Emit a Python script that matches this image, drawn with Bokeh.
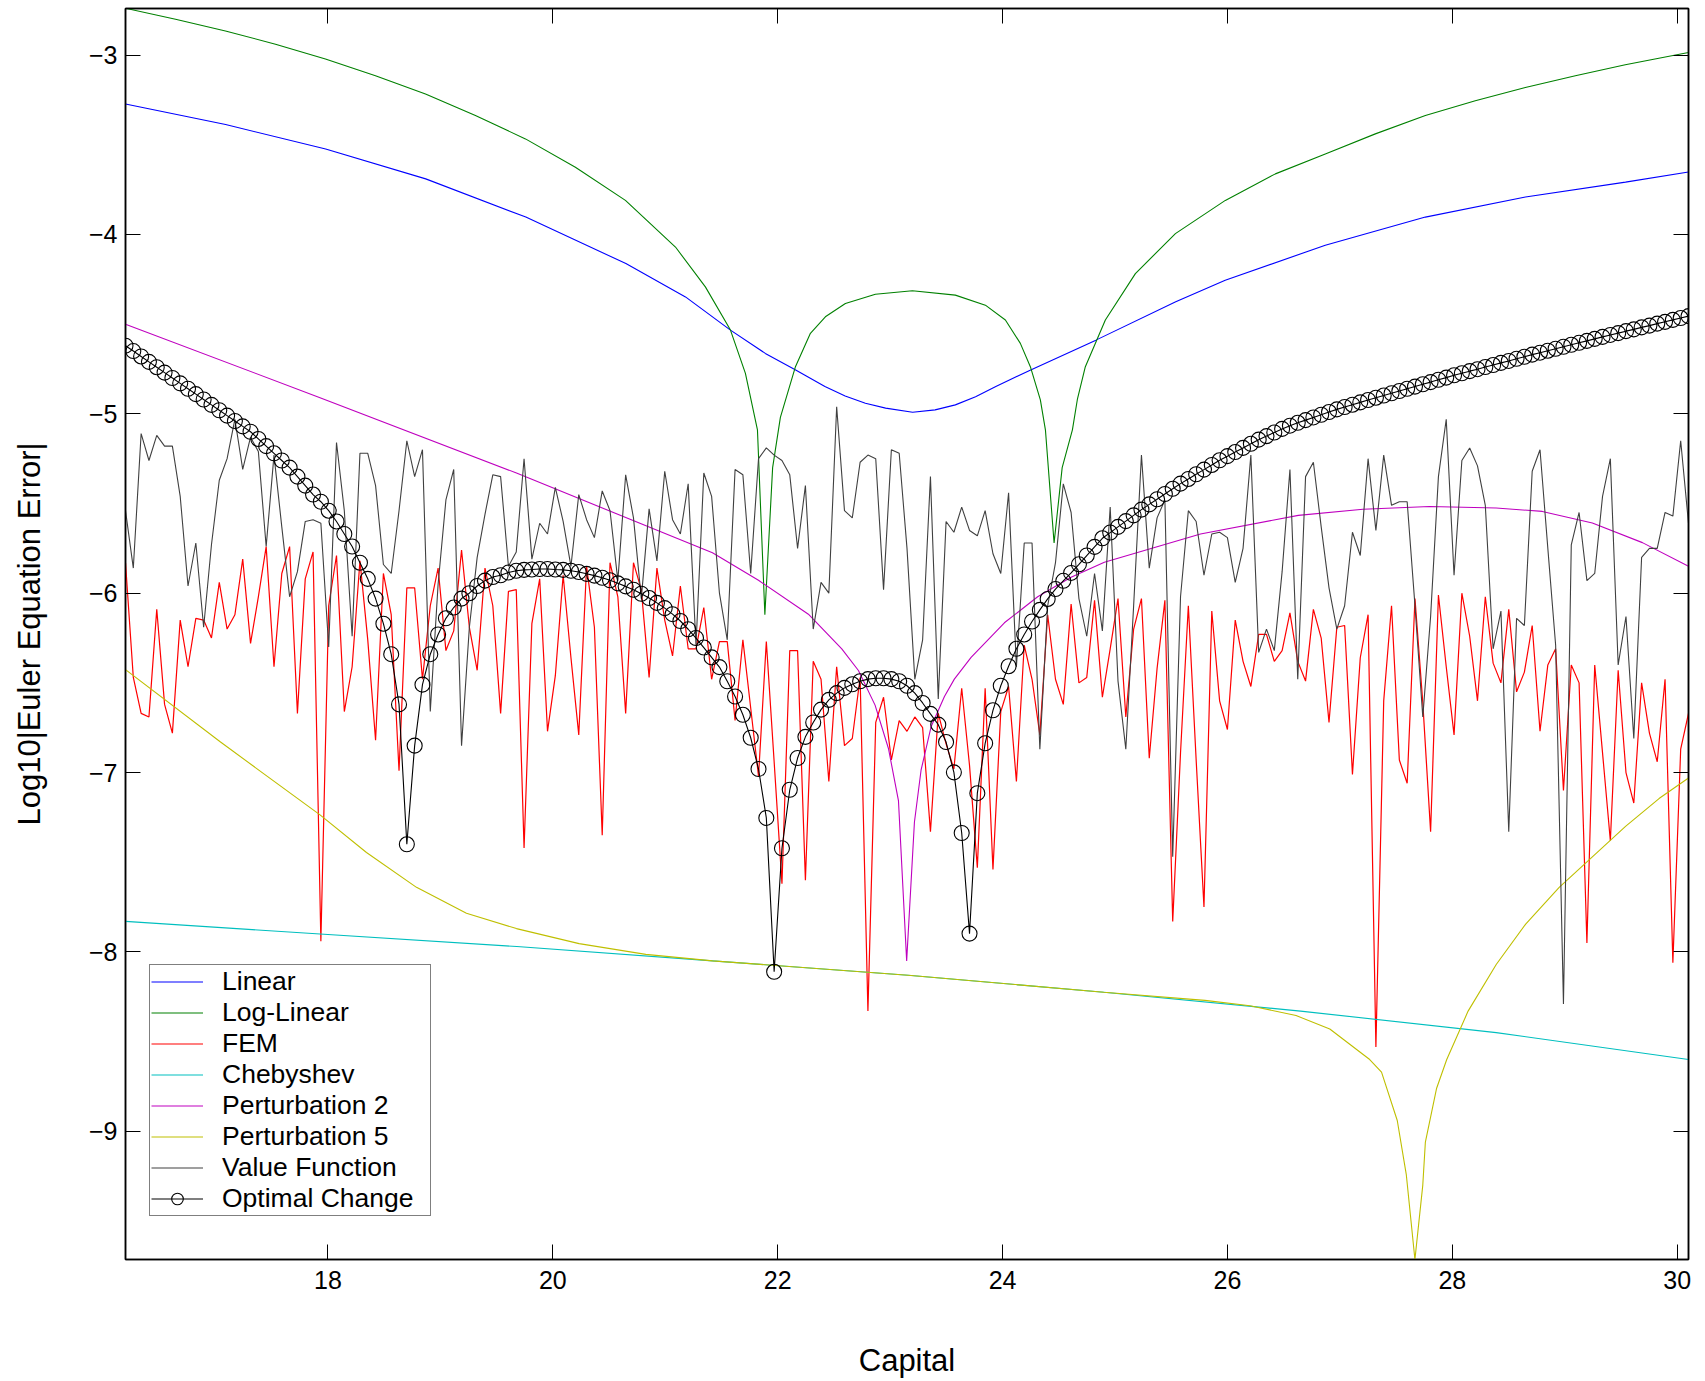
import numpy as np
from bokeh.plotting import figure
from bokeh.models import Range1d, FixedTicker, LinearAxis, Legend, LegendItem
from bokeh.embed import file_html
from bokeh.resources import INLINE

# ---------------- data ----------------
capital = np.linspace(16.2, 30.1, 201)

optimal_change = [
    -4.62, -4.65, -4.68, -4.71, -4.74, -4.77, -4.80, -4.83, -4.86, -4.89, -4.92, -4.95, -4.98, -5.01, -5.04, -5.07, -5.10, -5.14, -5.18, -5.22, -5.26, -5.30, -5.35, -5.40, -5.45,
    -5.49, -5.54, -5.60, -5.67, -5.74, -5.83, -5.92, -6.03, -6.17, -6.34, -6.62, -7.40, -6.85, -6.51, -6.34, -6.23, -6.14, -6.08, -6.03, -6.00, -5.96, -5.93, -5.91, -5.90, -5.885,
    -5.875, -5.87, -5.868, -5.865, -5.865, -5.868, -5.87, -5.875, -5.882, -5.892, -5.902, -5.914, -5.928, -5.945, -5.962, -5.981, -6.003, -6.027, -6.054, -6.083, -6.117, -6.155, -6.201, -6.25, -6.303,
    -6.358, -6.412, -6.491, -6.576, -6.678, -6.806, -6.98, -7.253, -8.111, -7.422, -7.096, -6.919, -6.801, -6.721, -6.649, -6.595, -6.557, -6.528, -6.508, -6.491, -6.479, -6.474, -6.474, -6.479, -6.491,
    -6.516, -6.557, -6.612, -6.673, -6.733, -6.83, -6.999, -7.337, -7.898, -7.115, -6.837, -6.653, -6.516, -6.407, -6.31, -6.23, -6.158, -6.093, -6.032, -5.977, -5.931, -5.887, -5.839, -5.79, -5.742,
    -5.694, -5.662, -5.630, -5.598, -5.566, -5.534, -5.505, -5.476, -5.447, -5.418, -5.389, -5.363, -5.337, -5.311, -5.285, -5.259, -5.236, -5.213, -5.190, -5.167, -5.144, -5.124, -5.104, -5.084, -5.066,
    -5.050, -5.035, -5.020, -5.005, -4.990, -4.975, -4.962, -4.949, -4.936, -4.923, -4.910, -4.898, -4.885, -4.873, -4.860, -4.848, -4.835, -4.823, -4.810, -4.798, -4.785, -4.774, -4.762, -4.751, -4.739,
    -4.728, -4.716, -4.705, -4.693, -4.682, -4.670, -4.659, -4.648, -4.637, -4.626, -4.615, -4.604, -4.593, -4.582, -4.571, -4.560, -4.550, -4.539, -4.529, -4.518, -4.508, -4.497, -4.487, -4.476, -4.466, -4.455,
]

value_function = [
    -5.54, -5.86, -5.11, -5.26, -5.12, -5.18, -5.18, -5.46, -5.96, -5.72, -6.19, -5.73, -5.37, -5.25, -5.03, -5.31, -5.13, -5.21, -5.74, -5.23, -5.63, -6.02, -5.88, -5.60, -5.59,
    -5.61, -6.30, -5.16, -5.54, -6.24, -5.22, -5.22, -5.40, -5.84, -5.89, -5.54, -5.15, -5.35, -5.20, -6.66, -5.95, -5.48, -5.31, -6.85, -6.19, -5.80, -5.56, -5.34, -5.35, -5.85,
    -5.77, -5.25, -5.81, -5.61, -5.67, -5.41, -5.60, -5.85, -5.45, -5.59, -5.69, -5.43, -5.54, -5.93, -5.34, -5.58, -6.03, -5.53, -5.82, -5.32, -5.59, -5.67, -5.39, -6.29, -5.33,
    -5.46, -6.00, -6.26, -5.31, -5.34, -5.89, -5.25, -5.19, -5.23, -5.26, -5.34, -5.75, -5.40, -6.20, -5.94, -6.00, -4.96, -5.54, -5.58, -5.27, -5.23, -5.25, -5.98, -5.20, -5.22,
    -5.75, -6.48, -6.26, -5.35, -6.59, -5.60, -5.66, -5.52, -5.65, -5.68, -5.54, -5.78, -5.89, -5.44, -6.41, -5.72, -5.72, -6.87, -6.07, -5.83, -5.39, -5.55, -6.03, -6.24, -5.89,
    -6.21, -5.52, -6.49, -6.87, -6.07, -5.23, -5.86, -5.58, -5.48, -7.47, -6.02, -5.54, -5.60, -5.90, -5.67, -5.66, -5.69, -5.94, -5.75, -5.23, -6.33, -6.20, -6.32, -5.88, -5.31,
    -6.48, -5.35, -5.27, -5.63, -5.97, -6.20, -6.07, -5.66, -5.79, -5.25, -5.65, -5.23, -5.51, -5.49, -5.49, -6.07, -6.69, -6.13, -5.35, -5.03, -5.90, -5.26, -5.19, -5.29, -5.51,
    -6.31, -6.10, -7.33, -6.14, -6.18, -5.32, -5.20, -5.75, -6.29, -8.29, -5.73, -5.55, -5.93, -5.89, -5.46, -5.25, -6.40, -6.13, -6.81, -5.80, -5.75, -5.75, -5.55, -5.57, -5.15, -5.61,
]

fem = [
    -5.83, -6.47, -6.67, -6.69, -6.09, -6.62, -6.78, -6.15, -6.41, -6.14, -6.15, -6.25, -5.94, -6.20, -6.12, -5.81, -6.28, -6.02, -5.74, -6.41, -5.89, -5.74, -6.67, -5.92, -5.77,
    -7.94, -6.07, -5.79, -6.66, -6.41, -5.82, -6.26, -6.82, -5.89, -6.12, -6.99, -5.97, -5.97, -6.48, -6.07, -5.86, -6.32, -6.21, -5.76, -6.19, -6.43, -5.86, -6.07, -6.67, -5.99,
    -5.98, -7.42, -6.17, -5.92, -6.77, -6.46, -5.90, -6.36, -6.79, -5.85, -6.19, -7.35, -5.83, -6.02, -6.67, -5.83, -5.98, -6.47, -5.86, -6.15, -6.35, -5.96, -6.31, -6.31, -6.08,
    -6.48, -6.27, -6.27, -6.71, -6.26, -6.64, -7.02, -6.27, -6.94, -7.62, -6.32, -6.32, -7.60, -6.38, -6.48, -7.05, -6.41, -6.85, -6.81, -6.47, -8.33, -6.72, -6.58, -6.93, -6.71,
    -6.77, -6.69, -6.75, -7.33, -6.67, -6.84, -6.98, -6.53, -6.96, -7.53, -6.53, -7.54, -6.66, -6.52, -7.05, -6.29, -6.48, -6.79, -6.12, -6.48, -6.62, -6.06, -6.50, -6.47, -6.04,
    -6.58, -6.31, -6.03, -6.69, -6.20, -6.03, -6.92, -6.42, -6.04, -7.83, -6.89, -6.07, -6.93, -7.75, -6.10, -6.60, -6.76, -6.15, -6.38, -6.52, -6.23, -6.23, -6.38, -6.32, -6.11,
    -6.38, -6.49, -6.09, -6.25, -6.72, -6.19, -6.18, -7.01, -6.36, -6.12, -8.53, -6.60, -6.07, -6.93, -7.06, -6.03, -6.61, -7.33, -6.01, -6.41, -6.79, -6.00, -6.24, -6.60, -6.02,
    -6.39, -6.50, -6.09, -6.55, -6.44, -6.18, -6.77, -6.40, -6.31, -7.10, -6.40, -6.50, -7.95, -6.40, -6.89, -7.38, -6.43, -7.00, -7.17, -6.50, -6.78, -6.94, -6.48, -8.06, -6.87, -6.67,
]

linear_k = [16.2, 17.09, 17.98, 18.87, 19.76, 20.65, 21.18, 21.58, 21.89, 22.16, 22.42, 22.6, 22.78, 22.96, 23.2, 23.4, 23.58, 23.76, 23.94, 24.25, 24.83, 25.54, 25.98, 26.87, 27.76, 28.65, 29.54, 30.1]
linear = [-3.272, -3.387, -3.523, -3.690, -3.903, -4.162, -4.348, -4.533, -4.663, -4.755, -4.848, -4.900, -4.941, -4.968, -4.991, -4.978, -4.950, -4.905, -4.848, -4.755, -4.589, -4.375, -4.255, -4.060, -3.903, -3.791, -3.708, -3.652]

loglinear_k = [16.2, 16.645, 17.089, 17.534, 17.978, 18.423, 18.868, 19.312, 19.757, 20.201, 20.646, 21.091, 21.357, 21.58, 21.713, 21.82, 21.886, 21.955, 22.024, 22.158, 22.291, 22.424, 22.602, 22.869, 23.198, 23.58, 23.847, 24.025, 24.158, 24.247, 24.336, 24.381, 24.458, 24.53, 24.621, 24.665, 24.736, 24.914, 25.181, 25.537, 25.981, 26.426, 26.87, 27.315, 27.76, 28.204, 28.649, 29.094, 29.538, 30.1]
loglinear = [-2.739, -2.800, -2.865, -2.939, -3.022, -3.115, -3.217, -3.337, -3.467, -3.625, -3.810, -4.070, -4.292, -4.533, -4.774, -5.089, -6.12, -5.30, -5.02, -4.737, -4.551, -4.459, -4.385, -4.333, -4.314, -4.338, -4.394, -4.477, -4.607, -4.737, -4.922, -5.089, -5.72, -5.30, -5.089, -4.92, -4.737, -4.477, -4.218, -3.995, -3.810, -3.662, -3.551, -3.439, -3.337, -3.254, -3.180, -3.115, -3.054, -2.985]

chebyshev_k = [16.2, 17.93, 19.68, 21.42, 23.16, 24.9, 26.65, 28.39, 30.1]
chebyshev = [-7.83, -7.90, -7.97, -8.05, -8.13, -8.225, -8.33, -8.45, -8.60]

pert2_k = [16.2, 17.93, 19.677, 21.42, 21.829, 22.273, 22.57, 22.718, 22.866, 22.985, 23.074, 23.147, 23.216, 23.275, 23.364, 23.483, 23.571, 23.72, 24.016, 24.312, 24.609, 24.905, 25.76, 26.63, 27.205, 27.798, 28.39, 28.80, 29.245, 29.69, 30.1]
pert2 = [-4.50, -4.91, -5.33, -5.775, -5.928, -6.117, -6.31, -6.431, -6.624, -6.866, -7.156, -8.05, -7.277, -6.987, -6.745, -6.576, -6.479, -6.358, -6.165, -6.020, -5.911, -5.827, -5.67, -5.566, -5.532, -5.517, -5.525, -5.544, -5.609, -5.718, -5.85]

pert5_k = [16.2, 17.045, 17.93, 18.343, 18.788, 19.232, 19.677, 20.234, 20.827, 21.42, 23.16, 24.9, 25.8, 26.2, 26.61, 26.91, 27.265, 27.37, 27.51, 27.59, 27.667, 27.737, 27.76, 27.86, 27.95, 28.14, 28.39, 28.652, 28.95, 29.245, 29.54, 29.838, 30.1]
pert5 = [-6.426, -6.83, -7.236, -7.446, -7.64, -7.785, -7.87, -7.954, -8.014, -8.05, -8.13, -8.225, -8.27, -8.30, -8.355, -8.43, -8.60, -8.67, -8.94, -9.24, -9.715, -9.30, -9.06, -8.76, -8.60, -8.33, -8.07, -7.845, -7.64, -7.47, -7.30, -7.145, -7.03]

x_ticks = [18, 20, 22, 24, 26, 28, 30]
y_ticks = [-9, -8, -7, -6, -5, -4, -3]

FONT = "Liberation Sans"

# ---------------- figure ----------------
p = figure(width=1705, height=1381, output_backend="svg", toolbar_location=None,
           x_range=Range1d(16.2, 30.1), y_range=Range1d(-9.715, -2.74),
           min_border_left=125, min_border_right=17, min_border_top=8, min_border_bottom=122)
p.background_fill_color = "white"
p.border_fill_color = "white"
p.xgrid.visible = False
p.ygrid.visible = False
p.outline_line_color = "black"
p.outline_line_width = 1.5

r_lin = p.line(linear_k, linear, color="#0000ff", line_width=1.1)
r_log = p.line(loglinear_k, loglinear, color="#008000", line_width=1.1)
r_fem = p.line(capital, fem, color="#ff0000", line_width=1.2)
r_che = p.line(chebyshev_k, chebyshev, color="#00bfbf", line_width=1.1)
r_p2 = p.line(pert2_k, pert2, color="#bf00bf", line_width=1.1)
r_p5 = p.line(pert5_k, pert5, color="#bfbf00", line_width=1.1)
r_vf = p.line(capital, value_function, color="#404040", line_width=1.1)
r_oc = p.line(capital, optimal_change, color="black", line_width=1.1)
r_ocm = p.scatter(capital, optimal_change, marker="circle", size=15, fill_color=None,
                  line_color="black", line_width=1.1)

# axes
def style_axis(ax, labels=True):
    ax.axis_line_color = "black"
    ax.axis_line_width = 1.5
    ax.major_tick_in = 15
    ax.major_tick_out = 0
    ax.minor_tick_line_color = None
    ax.major_tick_line_color = "black"
    ax.major_tick_line_width = 1
    if labels:
        ax.major_label_text_font = FONT
        ax.major_label_text_font_size = "25px"
        ax.major_label_text_color = "black"
        ax.axis_label_text_font = FONT
        ax.axis_label_text_font_size = "31px"
        ax.axis_label_text_font_style = "normal"
        ax.axis_label_text_color = "black"
    else:
        ax.major_label_text_color = None
        ax.major_label_text_font_size = "1px"
        ax.major_label_standoff = 0

p.xaxis.ticker = FixedTicker(ticks=x_ticks)
p.yaxis.ticker = FixedTicker(ticks=y_ticks)
p.xaxis.axis_label = "Capital"
p.yaxis.axis_label = "Log10|Euler Equation Error|"
for ax in p.xaxis:
    style_axis(ax)
    ax.major_label_standoff = 11
    ax.axis_label_standoff = 51
for ax in p.yaxis:
    style_axis(ax)
    ax.major_label_standoff = 8
    ax.axis_label_standoff = 39

top = LinearAxis(ticker=FixedTicker(ticks=x_ticks))
style_axis(top, labels=False)
p.add_layout(top, "above")
right = LinearAxis(ticker=FixedTicker(ticks=y_ticks))
style_axis(right, labels=False)
p.add_layout(right, "right")

legend = Legend(items=[
    LegendItem(label="Linear", renderers=[r_lin]),
    LegendItem(label="Log-Linear", renderers=[r_log]),
    LegendItem(label="FEM", renderers=[r_fem]),
    LegendItem(label="Chebyshev", renderers=[r_che]),
    LegendItem(label="Perturbation 2", renderers=[r_p2]),
    LegendItem(label="Perturbation 5", renderers=[r_p5]),
    LegendItem(label="Value Function", renderers=[r_vf]),
    LegendItem(label="Optimal Change", renderers=[r_oc, r_ocm]),
], location=(24, 43))
legend.label_text_font = FONT
legend.label_text_font_size = "26.5px"
legend.label_text_color = "black"
legend.glyph_width = 52
legend.glyph_height = 29
legend.label_height = 29
legend.label_width = 207
legend.label_standoff = 19
legend.spacing = 0
legend.padding = 1
legend.margin = 0
legend.border_line_color = "black"
legend.border_line_width = 1.5
legend.background_fill_color = "white"
legend.background_fill_alpha = 1.0
p.add_layout(legend)

open("out.html", "w").write(file_html(p, INLINE))
